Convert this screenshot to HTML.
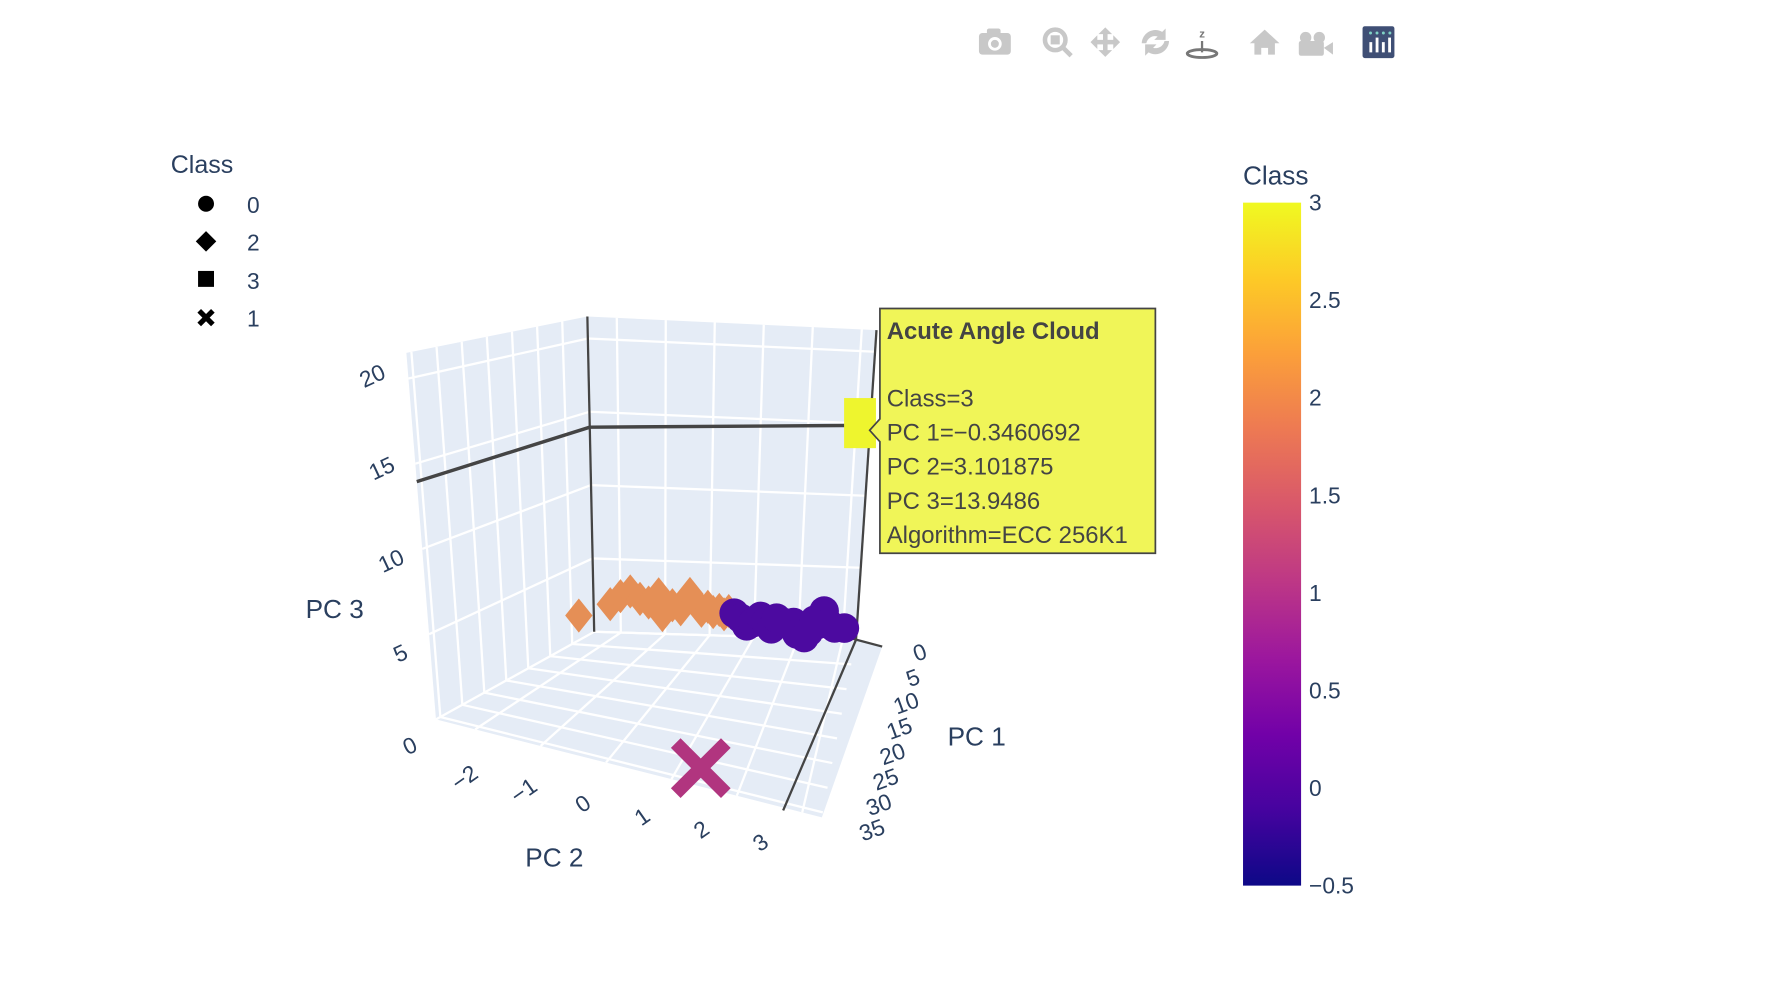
<!DOCTYPE html>
<html><head><meta charset="utf-8"><style>
html,body{margin:0;padding:0;background:#fff;}
svg{display:block;font-family:"Liberation Sans",Arial,sans-serif;}
</style></head><body>
<svg id="chart" width="1786" height="994" viewBox="0 0 1569 873.2" xmlns="http://www.w3.org/2000/svg">
<g id="toolbar" fill="#c8c8c8">
  <g><rect x="860" y="29" width="28" height="19" rx="3"/><rect x="867" y="25" width="12" height="6" rx="2"/><circle cx="874" cy="38.5" r="6" fill="#fff"/><circle cx="874" cy="38.5" r="3.5"/></g>
  <g><circle cx="927" cy="35" r="9" fill="none" stroke="#c8c8c8" stroke-width="4"/><rect x="923" y="31" width="8" height="8"/><line x1="933" y1="41" x2="941" y2="49" stroke="#c8c8c8" stroke-width="4"/></g>
  <g><path d="M971 24 l-6 6 h4 v5 h-5 v-4 l-6 6 6 6 v-4 h5 v5 h-4 l6 6 6-6 h-4 v-5 h5 v4 l6-6-6-6 v4 h-5 v-5 h4 z"/></g>
  <g><path d="M1003 38 a12 12 0 0 1 18-10 l3-3 v10 h-10 l3-3 a8 8 0 0 0-10 6z M1027 36 a12 12 0 0 1-18 10 l-3 3 v-10 h10 l-3 3 a8 8 0 0 0 10-6z"/></g>
  <g fill="#777"><text x="1056" y="33" font-size="10" font-weight="bold" text-anchor="middle">z</text><line x1="1056" y1="36" x2="1056" y2="46" stroke="#777" stroke-width="2"/><ellipse cx="1056" cy="47" rx="13" ry="3.5" fill="none" stroke="#777" stroke-width="2.5"/></g>
  <g><path d="M1111 26 l-13 12 h4 v10 h6 v-6 h6 v6 h6 v-10 h4z"/></g>
  <g><circle cx="1147" cy="33" r="5"/><circle cx="1159" cy="33" r="5"/><rect x="1141" y="36" width="22" height="13" rx="2"/><path d="M1163 42 l8-5 v11z"/></g>
  <g><rect x="1197" y="23" width="28" height="28" rx="2" fill="#3f4f75"/><g fill="#fff"><rect x="1203" y="37" width="2.5" height="9"/><rect x="1208.5" y="33" width="2.5" height="13"/><rect x="1214" y="37" width="2.5" height="9"/><rect x="1219.5" y="33" width="2.5" height="13"/></g><g fill="#7fd1c4"><circle cx="1204" cy="29" r="1.3"/><circle cx="1209.7" cy="29" r="1.3"/><circle cx="1215.3" cy="29" r="1.3"/><circle cx="1221" cy="29" r="1.3"/></g></g>
</g>
<g id="legend" fill="#2a3f5f" font-size="22">
  <text x="150" y="152">Class</text>
  <g><circle cx="181" cy="179" r="7" fill="#000"/><text x="217" y="187" font-size="20">0</text></g>
  <g><path d="M181 203 l9 9 -9 9 -9-9z" fill="#000"/><text x="217" y="220" font-size="20">2</text></g>
  <g><rect x="174" y="238" width="14" height="14" fill="#000"/><text x="217" y="254" font-size="20">3</text></g>
  <g><path d="M175 273 l12 12 M187 273 l-12 12" stroke="#000" stroke-width="4.5"/><text x="217" y="287" font-size="20">1</text></g>
</g>
<defs><linearGradient id="plasma" x1="0" y1="1" x2="0" y2="0">
<stop offset="0" stop-color="#0d0887"/><stop offset="0.111" stop-color="#46039f"/><stop offset="0.222" stop-color="#7201a8"/><stop offset="0.333" stop-color="#9c179e"/><stop offset="0.444" stop-color="#bd3786"/><stop offset="0.556" stop-color="#d8576b"/><stop offset="0.667" stop-color="#ed7953"/><stop offset="0.778" stop-color="#fb9f3a"/><stop offset="0.889" stop-color="#fdca26"/><stop offset="1" stop-color="#f0f921"/></linearGradient></defs>
<g id="colorbar" fill="#2a3f5f" font-size="20">
  <text x="1092" y="162" font-size="23">Class</text>
  <rect x="1092" y="178" width="51" height="600" fill="url(#plasma)"/>
  <g id="cbticks"></g>
</g>
<g id="scene"></g>
<g id="tooltip">
  <path d="M773 271 H1015 V486 H773 V388 L764 378 L773 368 Z" fill="#f0f558" stroke="#444" stroke-width="1.5"/>
  <g fill="#444" font-size="21">
    <text x="779" y="298" font-weight="bold">Acute Angle Cloud</text>
    <text x="779" y="357">Class=3</text>
    <text x="779" y="387">PC 1=−0.3460692</text>
    <text x="779" y="417">PC 2=3.101875</text>
    <text x="779" y="447">PC 3=13.9486</text>
    <text x="779" y="477">Algorithm=ECC 256K1</text>
  </g>
</g>
</svg>
<script>
const NS='http://www.w3.org/2000/svg';
// ---- data ----
const cbTicks=[3,2.5,2,1.5,1,0.5,0,-0.5];
const pc2Ticks=[-2,-1,0,1,2,3];
const pc1Ticks=[0,5,10,15,20,25,30,35];
const pc3Ticks=[0,5,10,15,20];
// class 2 (diamonds)
const c2pc1=[3.5,1.5,1.2,1.0,0.8,0.9,0.6,0.8,0.5,0.7,0.6,0.4,0.5,0.6,0.3,0.5,0.4,0.3];
const c2pc2=[-2.6,-2.1,-1.9,-1.7,-1.5,-1.3,-1.1,-1.0,-0.8,-0.6,-0.4,-0.3,-0.15,0.0,0.1,0.25,0.35,0.45];
const c2pc3=[1.6,2.1,2.6,2.9,2.4,2.2,2.7,1.4,2.0,1.8,2.8,2.3,1.7,2.0,1.6,1.8,1.5,1.7];
// class 0 (circles)
const c0pc1=[0.8,0.9,1.2,1.5,1.0,0.7,1.3,0.9,1.1,0.8,1.4,2.2,1.9,2.0,1.0,0.8,0.6,0.9,1.2,0.5];
const c0pc2=[0.6,0.75,0.9,1.05,1.2,1.3,1.45,1.55,1.7,1.8,1.95,2.05,2.2,2.3,2.4,2.5,2.6,2.7,2.85,3.05];
const c0pc3=[1.7,1.4,1.0,1.3,1.6,1.2,0.9,1.5,1.3,1.1,1.4,0.9,0.6,1.0,1.5,1.2,2.0,1.3,1.1,0.9];
// class 1 (x)
const c1pc1=[32];const c1pc2=[1.32];const c1pc3=[0];
// class 3 (hovered square)
const c3pc1=[-0.35];const c3pc2=[3.1];const c3pc3=[13.95];

// ---- axes ----
const X0=-2.6,X1=3.3, D0=0,D1=36, Z0=0,Z1=21.5;
const BL=[522,555],BR=[752,562],FL=[383,632],FR=[722,718],TLb=[516,278],TRb=[770,290],TLf=[357,310];
const lerp=(a,b,t)=>[a[0]+(b[0]-a[0])*t,a[1]+(b[1]-a[1])*t];
function floorPt(u,t){return lerp(lerp(BL,FL,t),lerp(BR,FR,t),u);}
function backPt(u,z){return lerp(lerp(BL,BR,u),lerp(TLb,TRb,u),z);}
function leftPt(t,z){return lerp(lerp(BL,FL,t),lerp(TLb,TLf,t),z);}
const uOf=v=>(v-X0)/(X1-X0), tOf=v=>(v-D0)/(D1-D0), zOf=v=>(v-Z0)/(Z1-Z0);
function proj(p1,p2,p3){const u=uOf(p2),t=tOf(p1);const base=floorPt(u,t);const sc=(555-267)/(Z1)*(1+0.15*t);return [base[0],base[1]-p3*sc];}

const scene=document.getElementById('scene');
function mk(tag,attrs,parent){const e=document.createElementNS(NS,tag);for(const k in attrs)e.setAttribute(k,attrs[k]);(parent||scene).appendChild(e);return e;}
const pts=a=>a.map(p=>p.join(',')).join(' ');
let e;
e=mk('polygon',{points:pts([BL,FL,TLf,TLb]),fill:'#e5ecf6'});


e=mk('polygon',{points:pts([BL,BR,TRb,TLb]),fill:'#e5ecf6'});


e=mk('polygon',{points:pts([BL,BR,[775,568],FR,FL]),fill:'#e5ecf6'});


const grid=mk('g',{stroke:'#fff','stroke-width':2,fill:'none'});


function line(a,b,par,attrs){return mk('line',Object.assign({x1:a[0],y1:a[1],x2:b[0],y2:b[1]},attrs||{}),par);}
pc2Ticks.forEach(v=>{const u=uOf(v);line(backPt(u,0),backPt(u,1),grid);line(floorPt(u,0),floorPt(u,1),grid);});
pc1Ticks.forEach(v=>{const t=tOf(v);line(leftPt(t,0),leftPt(t,1),grid);line(floorPt(0,t),floorPt(1,t),grid);});
pc3Ticks.forEach(v=>{const z=zOf(v);line(backPt(0,z),backPt(1,z),grid);line(leftPt(0,z),leftPt(1,z),grid);});
const ax=mk('g',{stroke:'#444','stroke-width':2});


line(TLb,BL,ax);line(TRb,BR,ax);line(BR,[688,712],ax);line([745,560],[775,568],ax);
const hp=proj(c3pc1[0],c3pc2[0],c3pc3[0]);
const hz=zOf(c3pc3[0]);
line(leftPt(1,hz),backPt(0,hz),ax,{'stroke-width':3});
line(backPt(0,hz),[hp[0]+12,hp[1]],ax,{'stroke-width':3});
const tl=mk('g',{fill:'#2a3f5f','font-size':20,'text-anchor':'middle'});


pc2Ticks.forEach(v=>{const p=lerp([408,683],[668,740],(v+2)/5);const t=mk('text',{x:p[0],y:p[1]+7,transform:`rotate(-35 ${p[0]} ${p[1]})`},tl);t.textContent=v<0?'−'+(-v):v;

});
pc1Ticks.forEach(v=>{const t0=tOf(v);const p=lerp([808,573],[766,729],t0*36/35);const t=mk('text',{x:p[0],y:p[1]+7,transform:`rotate(-20 ${p[0]} ${p[1]})`},tl);t.textContent=v;

});
pc3Ticks.forEach(v=>{const p=lerp([360,655],[327,330],v/20);const t=mk('text',{x:p[0],y:p[1]+7,transform:`rotate(-25 ${p[0]} ${p[1]})`},tl);t.textContent=v;

});
const titles=[['PC 3',294,543],['PC 1',858,655],['PC 2',487,761]];
titles.forEach(([s,x,y])=>{const t=mk('text',{x:x,y:y,'font-size':23},tl);t.textContent=s;

});
const mg=mk('g',{});


c2pc1.forEach((v,i)=>{const p=proj(v,c2pc2[i],c2pc3[i]);const m=mk('path',{d:`M${p[0]} ${p[1]-15} l12 15 -12 15 -12 -15z`,fill:'#e58f56'},mg);

});
c0pc1.forEach((v,i)=>{const p=proj(v,c0pc2[i],c0pc3[i]);const m=mk('circle',{cx:p[0],cy:p[1],r:13,fill:'#4c0aa0'},mg);

});
c1pc1.forEach((v,i)=>{const p=proj(v,c1pc2[i],c1pc3[i]);const m=mk('path',{d:`M${p[0]-22} ${p[1]-22} L${p[0]+22} ${p[1]+22} M${p[0]+22} ${p[1]-22} L${p[0]-22} ${p[1]+22}`,stroke:'#b1357f','stroke-width':12},mg);

});
c3pc1.forEach((v,i)=>{const p=proj(v,c3pc2[i],c3pc3[i]);const m=mk('rect',{x:p[0]-3,y:p[1]-24,width:28,height:44,fill:'#eef52e'},mg);

});
const cb=document.getElementById('cbticks');
cbTicks.forEach(v=>{const y=778-(v+0.5)/3.5*600;const t=document.createElementNS(NS,'text');t.setAttribute('x',1150);t.setAttribute('y',y+7);t.textContent=v<0?'−'+(-v):v;


cb.appendChild(t);});
</script>
</body></html>
